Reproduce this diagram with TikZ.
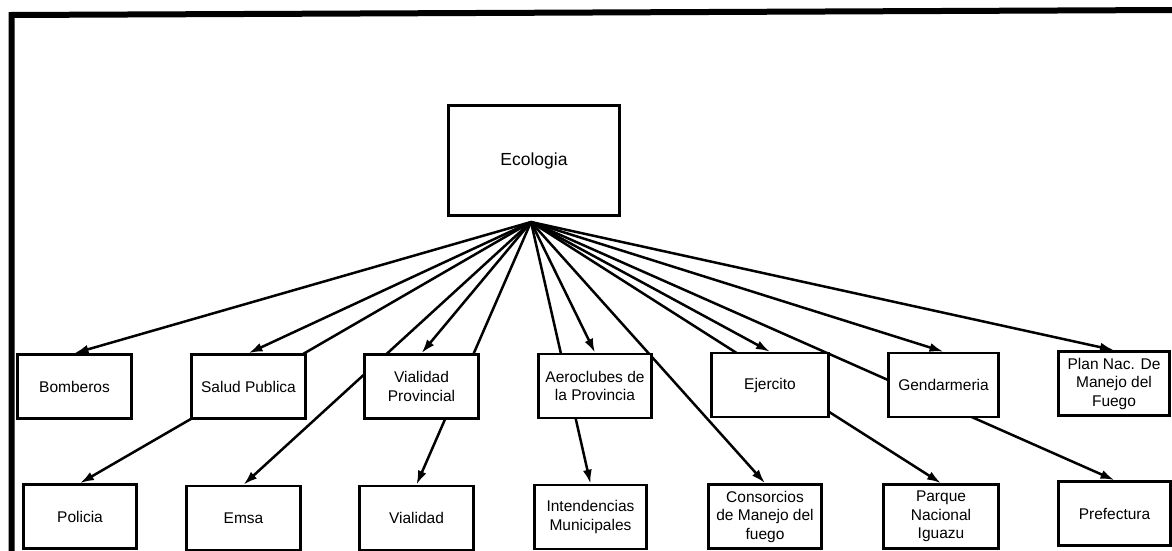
\documentclass[tikz,border=0pt]{standalone}
\usepackage{fontspec}
\setmainfont{Liberation Sans}
\usetikzlibrary{arrows.meta,backgrounds}
\begin{document}
\begin{tikzpicture}[x=1pt,y=-1pt,
  box/.style={draw,line width=2.6pt,fill=white,minimum width=114pt,minimum height=64pt,
    align=center,inner sep=2pt,font=\fontsize{15.5}{18.5}\selectfont},
  conn/.style={line width=2.5pt,-{Latex[length=14pt,width=9pt]}},
  frameline/.style={line width=6pt,line join=miter}]
\useasboundingbox (0,0) rectangle (1172,551);
\draw[frameline] (11.5,553) -- (11.5,15) -- (1174,10);

\node[box,minimum width=171pt,minimum height=110pt,font=\fontsize{17.5}{20}\selectfont] (eco) at (534,160.5) {Ecologia};
\coordinate (hub) at (531,222);

% top row
\node[box] (bom) at (74.5,386.5) {Bomberos};
\node[box] (sal) at (248.5,386.5) {Salud Publica};
\node[box] (vp) at (421.5,386.5) {Vialidad\\Provincial};
\node[box,minimum width=113pt] (aero) at (595,386) {Aeroclubes de\\la Provincia};
\node[box,minimum width=117pt] (ej) at (770,385) {Ejercito};
\node[box,minimum width=110pt] (gen) at (943.5,385) {Gendarmeria};
\node[box,minimum width=111pt] (plan) at (1114,383.5) {Plan Nac. De\\Manejo del\\Fuego};

% bottom row
\node[box,minimum width=113pt] (pol) at (80,516.5) {Policia};
\node[box] (emsa) at (243.5,518) {Emsa};
\node[box] (via) at (416.5,518) {Vialidad};
\node[box,minimum width=112pt] (int) at (590.5,517) {Intendencias\\Municipales};
\node[box,minimum width=113pt] (cons) at (765,516.5) {Consorcios\\de Manejo del\\fuego};
\node[box,minimum width=115pt] (par) at (941,516.5) {Parque\\Nacional\\Iguazu};
\node[box,minimum width=112pt] (pref) at (1114.5,513.5) {Prefectura};

\begin{scope}[on background layer]
\foreach \t in {bom,sal,pol,vp,emsa,via,aero,int,cons,ej,par,gen,pref,plan}
  \draw[conn] (hub) -- (\t.north);
\end{scope}
\end{tikzpicture}
\end{document}
